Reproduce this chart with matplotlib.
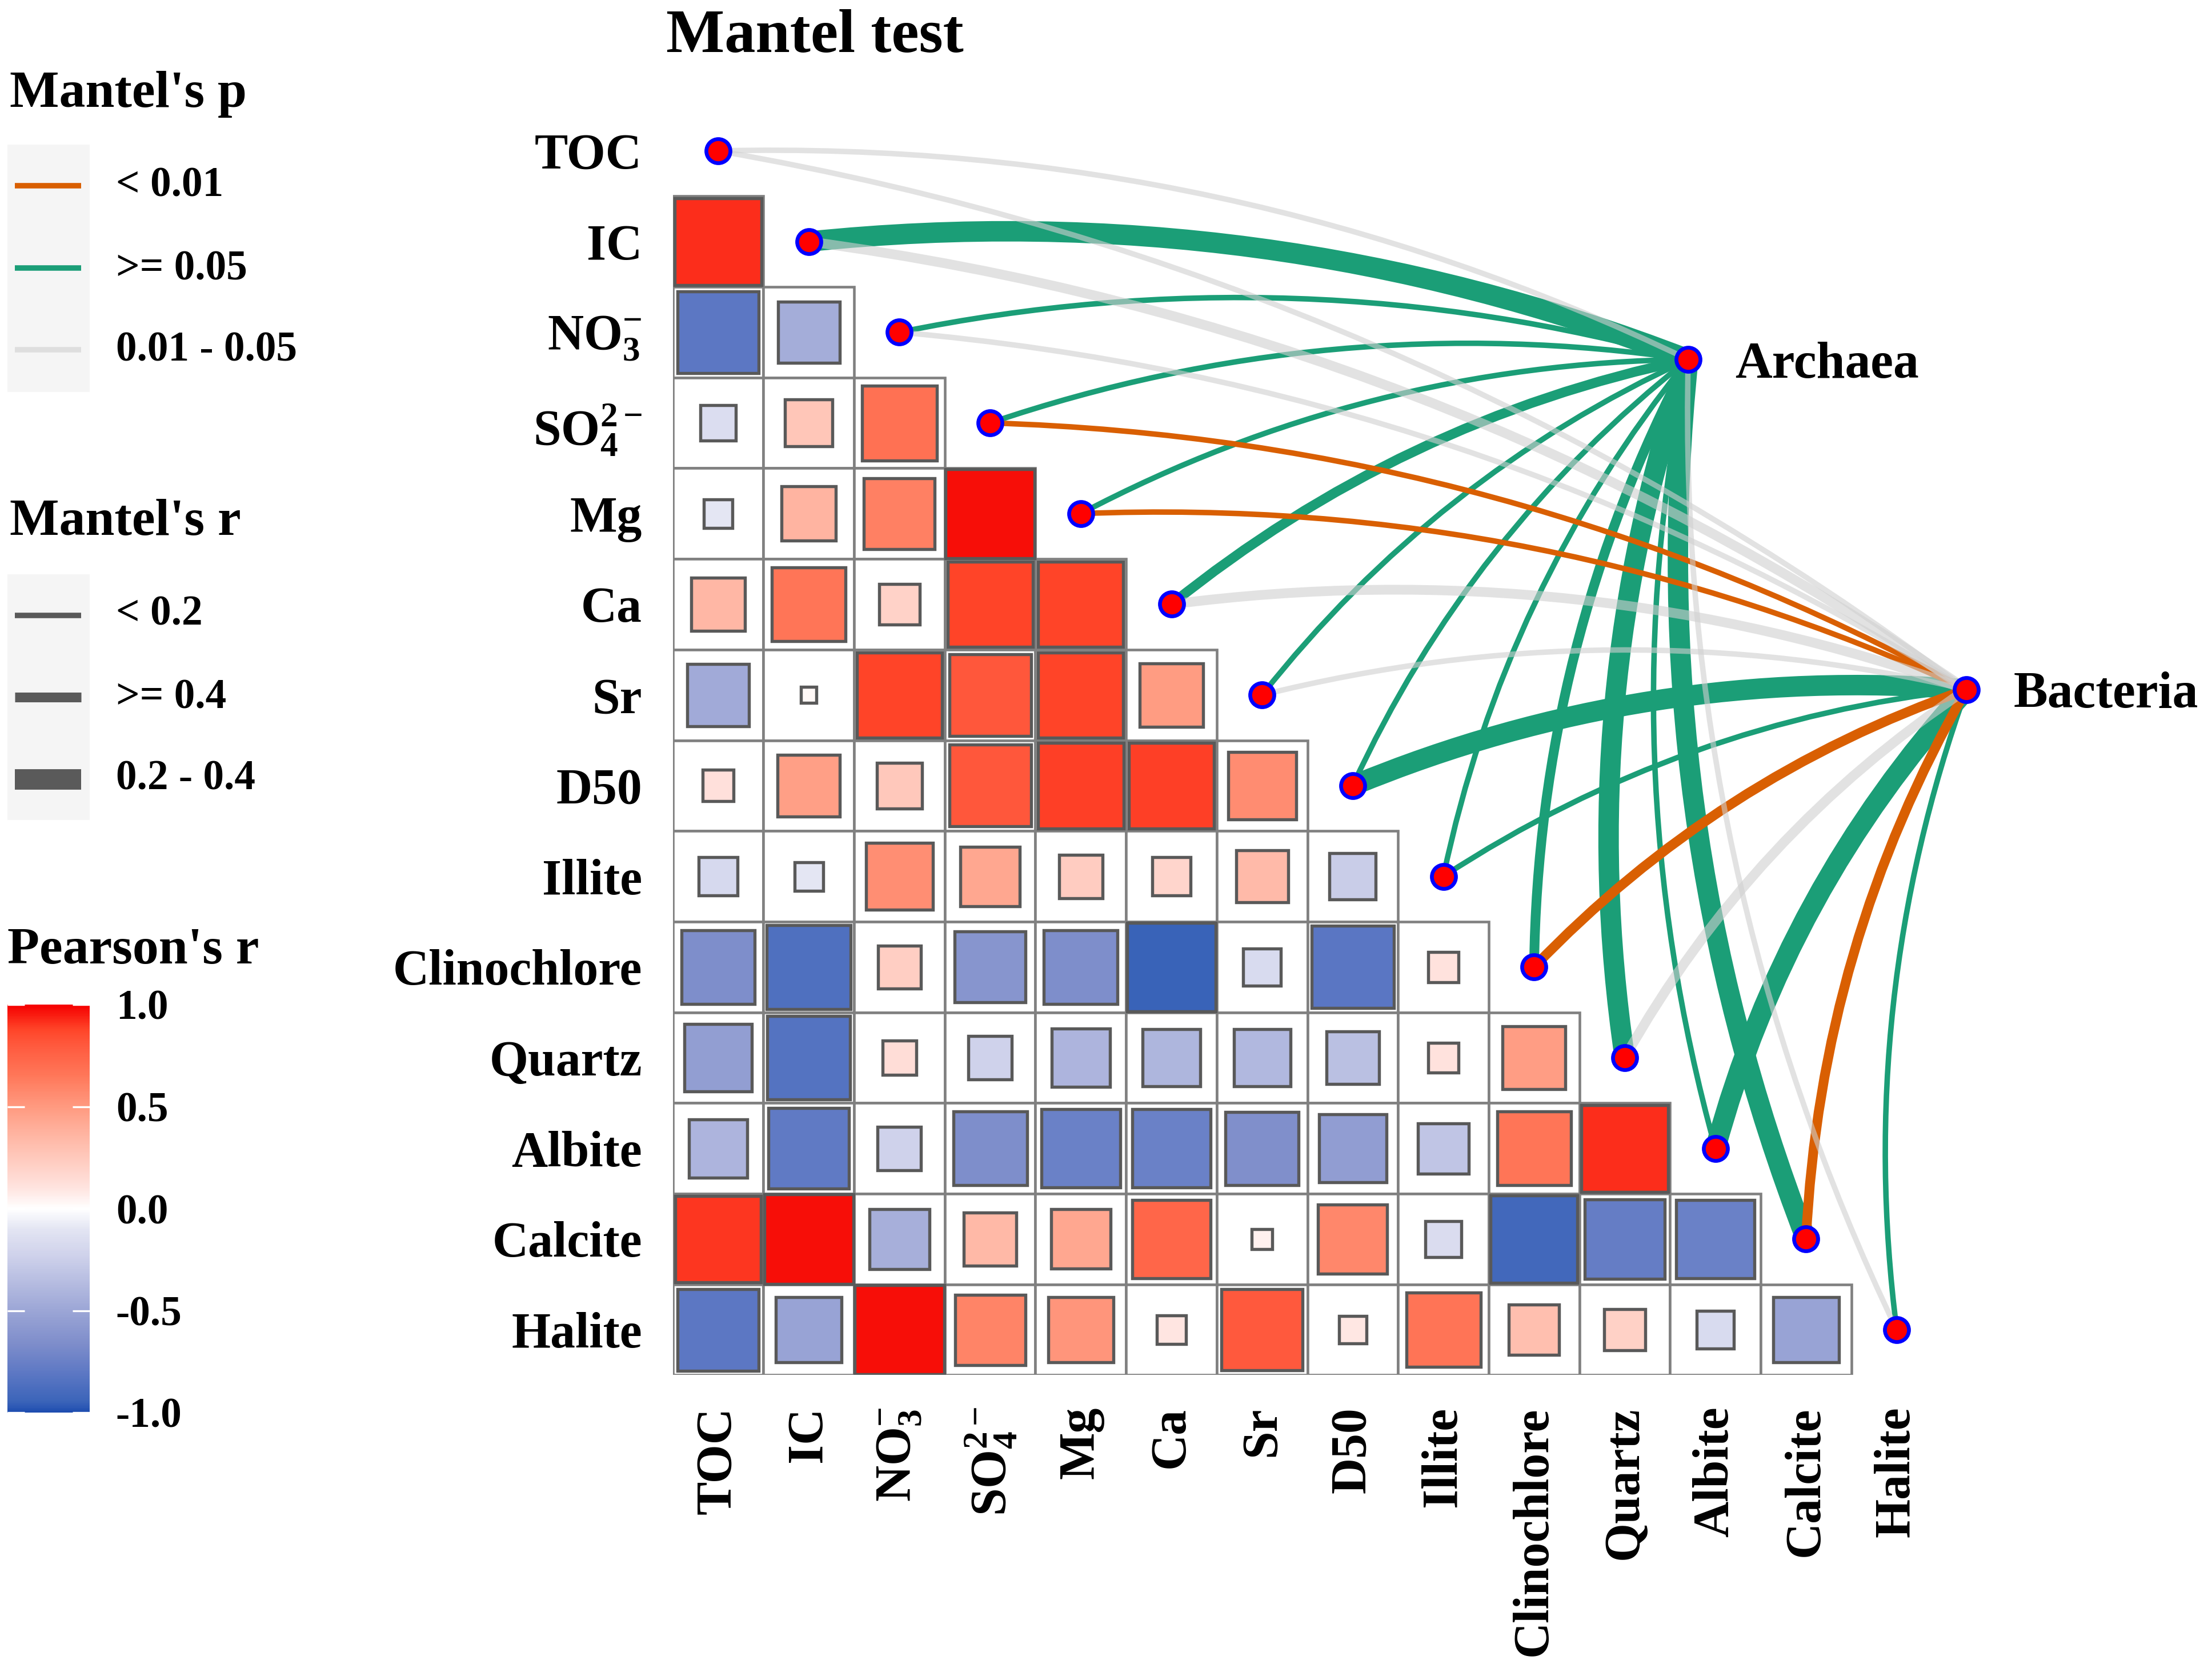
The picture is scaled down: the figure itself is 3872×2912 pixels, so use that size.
import numpy as np
import matplotlib
matplotlib.use("Agg")
import matplotlib.pyplot as plt
from matplotlib.patches import Rectangle, PathPatch
from matplotlib.path import Path
from matplotlib.colors import LinearSegmentedColormap, Normalize
from matplotlib.cm import ScalarMappable

plt.rcParams['font.family'] = ['Liberation Serif', 'DejaVu Serif']
plt.rcParams['font.weight'] = 'bold'
plt.rcParams['mathtext.fontset'] = 'custom'
plt.rcParams['mathtext.rm'] = 'Liberation Serif:bold'
plt.rcParams['mathtext.bf'] = 'Liberation Serif:bold'
plt.rcParams['mathtext.it'] = 'Liberation Serif:bold:italic'
plt.rcParams['mathtext.default'] = 'rm'

# ---------------- data ----------------
variables = ['TOC', 'IC', 'NO3', 'SO4', 'Mg', 'Ca', 'Sr', 'D50', 'Illite',
             'Clinochlore', 'Quartz', 'Albite', 'Calcite', 'Halite']
var_labels = ['TOC', 'IC', r'NO$_3^{-}$', r'SO$_4^{2-}$', 'Mg', 'Ca', 'Sr', 'D50',
              'Illite', 'Clinochlore', 'Quartz', 'Albite', 'Calcite', 'Halite']

# Pearson's r, lower triangle (row i holds correlations with variables 0..i-1)
pearson_r = [
    [],
    [0.92],
    [-0.81, -0.46],
    [-0.15, 0.27, 0.68],
    [-0.10, 0.36, 0.61, 0.97],
    [0.35, 0.66, 0.20, 0.88, 0.88],
    [-0.47, 0.03, 0.88, 0.81, 0.88, 0.49],
    [0.12, 0.47, 0.25, 0.81, 0.89, 0.89, 0.56],
    [-0.18, -0.10, 0.55, 0.43, 0.23, 0.18, 0.33, -0.26],
    [-0.66, -0.86, 0.22, -0.61, -0.66, -0.95, -0.17, -0.82, 0.11],
    [-0.55, -0.84, 0.14, -0.23, -0.41, -0.40, -0.39, -0.34, 0.11, 0.48],
    [-0.41, -0.79, -0.23, -0.66, -0.75, -0.75, -0.65, -0.56, -0.31, 0.66, 0.92],
    [0.90, 0.97, -0.44, 0.34, 0.43, 0.74, 0.05, 0.58, -0.16, -0.92, -0.77, -0.75],
    [-0.81, -0.52, 0.97, 0.60, 0.52, 0.10, 0.80, 0.09, 0.67, 0.31, 0.21, -0.17, -0.52],
]

species = ['Archaea', 'Bacteria']
archaea_p = ['0.01 - 0.05', '>= 0.05', '>= 0.05', '>= 0.05', '>= 0.05', '>= 0.05', '>= 0.05',
             '>= 0.05', '>= 0.05', '>= 0.05', '>= 0.05', '>= 0.05', '>= 0.05', '0.01 - 0.05']
archaea_r = ['< 0.2', '0.2 - 0.4', '< 0.2', '< 0.2', '< 0.2', '>= 0.4', '< 0.2',
             '< 0.2', '< 0.2', '>= 0.4', '0.2 - 0.4', '< 0.2', '0.2 - 0.4', '< 0.2']
bacteria_p = ['0.01 - 0.05', '0.01 - 0.05', '0.01 - 0.05', '< 0.01', '< 0.01', '0.01 - 0.05',
              '0.01 - 0.05', '>= 0.05', '>= 0.05', '< 0.01', '0.01 - 0.05', '>= 0.05',
              '< 0.01', '>= 0.05']
bacteria_r = ['< 0.2', '>= 0.4', '< 0.2', '< 0.2', '< 0.2', '>= 0.4', '< 0.2',
              '0.2 - 0.4', '< 0.2', '>= 0.4', '>= 0.4', '0.2 - 0.4', '>= 0.4', '< 0.2']

p_levels = ['< 0.01', '>= 0.05', '0.01 - 0.05']
r_levels = ['< 0.2', '>= 0.4', '0.2 - 0.4']
colorbar_ticks = [-1.0, -0.5, 0.0, 0.5, 1.0]

# ---------------- styles ----------------
p_colors = {'< 0.01': '#D95F02', '>= 0.05': '#1B9E77', '0.01 - 0.05': '#D0D0D0'}
p_alpha = {'< 0.01': 1.0, '>= 0.05': 1.0, '0.01 - 0.05': 0.6}
p_z = {'>= 0.05': 3.0, '< 0.01': 3.5, '0.01 - 0.05': 4.0}
r_widths = {'< 0.2': 2.3, '>= 0.4': 4.1, '0.2 - 0.4': 8.6}

cmap = LinearSegmentedColormap.from_list('pear', [
    (0.0, '#1E4DB0'), (0.025, '#3B64B9'), (0.09, '#5A76C3'), (0.17, '#7F8ECB'),
    (0.25, '#9CA6D6'), (0.385, '#CFD2EB'), (0.45, '#E3E5F3'), (0.5, '#FFFFFF'),
    (0.55, '#FFE4E0'), (0.6, '#FFD2C8'), (0.665, '#FFBBAA'), (0.75, '#FF9A80'),
    (0.83, '#FF7658'), (0.9, '#FF5A3E'), (0.94, '#FF4529'), (1.0, '#F50000')])
norm = Normalize(-1, 1)

W, H, DPI = 3872, 2912, 300
fig = plt.figure(figsize=(W / DPI, H / DPI), dpi=DPI)

# main axes layout (cell units)
U = 158.7
x0px, y0px = 1257.0, 264.0
xlim = (-0.5, 16.3)
ytop, ybot = -1.0, 13.5
left = (x0px + xlim[0] * U) / W
width = (xlim[1] - xlim[0]) * U / W
top_px = y0px + ytop * U
bot_px = y0px + ybot * U
ax = fig.add_axes([left, 1 - bot_px / H, width, (bot_px - top_px) / H])
ax.set_xlim(*xlim)
ax.set_ylim(ybot, ytop)
for s in ax.spines.values():
    s.set_visible(False)
ax.patch.set_visible(False)

n = len(variables)
ax.set_xticks(range(n))
ax.set_xticklabels(var_labels, rotation=90, fontsize=21, fontweight='bold')
ax.set_yticks(range(n))
ax.set_yticklabels(var_labels, fontsize=21, fontweight='bold')
ax.tick_params(axis='x', length=0, pad=13.3)
ax.tick_params(axis='y', length=0, pad=12.9)

# grid cells and squares
for i, row in enumerate(pearson_r):
    for j, r in enumerate(row):
        ax.add_patch(Rectangle((j - 0.5, i - 0.5), 1, 1, facecolor='white',
                               edgecolor='#808080', linewidth=1.1, zorder=1))
for i, row in enumerate(pearson_r):
    for j, r in enumerate(row):
        s = np.sqrt(abs(r))
        ax.add_patch(Rectangle((j - s / 2, i - s / 2), s, s, facecolor=cmap(norm(r)),
                               edgecolor='#595959', linewidth=1.3, zorder=2))

# nodes
node_pos = {'Archaea': (10.70, 2.30), 'Bacteria': (13.77, 5.94)}
node_p = {'Archaea': archaea_p, 'Bacteria': bacteria_p}
node_r = {'Archaea': archaea_r, 'Bacteria': bacteria_r}
rad = 0.12
for sp in species:
    nx, ny = node_pos[sp]
    for i in range(n):
        sx, sy = i, i
        dx, dy = nx - sx, ny - sy
        mx, my = (sx + nx) / 2, (sy + ny) / 2
        cx, cy = mx + rad * dy, my - rad * dx
        path = Path([(sx, sy), (cx, cy), (nx, ny)], [Path.MOVETO, Path.CURVE3, Path.CURVE3])
        pc = node_p[sp][i]
        ax.add_patch(PathPatch(path, facecolor='none', edgecolor=p_colors[pc],
                               alpha=p_alpha[pc], linewidth=r_widths[node_r[sp][i]],
                               capstyle='butt', zorder=p_z[pc]))
    ax.text(nx + 0.52, ny, sp, fontsize=21.5, fontweight='bold', ha='left',
            va='center_baseline', clip_on=False)

ax.scatter(range(n), range(n), s=102, c='red', edgecolors='blue', linewidths=1.6, zorder=6)
ax.scatter([node_pos[s][0] for s in species], [node_pos[s][1] for s in species],
           s=102, c='red', edgecolors='blue', linewidths=1.6, zorder=6, clip_on=False)

fig.text(1166 / W, 1 - 91 / H, 'Mantel test', fontsize=26, fontweight='bold',
         ha='left', va='baseline')

# ---------------- legends (left panel) ----------------
lax = fig.add_axes([0, 0, 1100 / W, 1])
lax.set_xlim(0, 1100)
lax.set_ylim(H, 0)
lax.axis('off')

lax.text(17, 187, "Mantel's p", fontsize=22, fontweight='bold', ha='left', va='baseline')
lax.add_patch(Rectangle((12.5, 253), 144.5, 433, facecolor='#F5F5F5', edgecolor='none'))
for lev, yc, yt in zip(p_levels, [325, 469, 612], [319, 464, 606]):
    lax.plot([26, 142], [yc, yc], color=p_colors[lev], alpha=p_alpha[lev], lw=2.3,
             solid_capstyle='butt')
    lax.text(203, yt + 25, lev, fontsize=17.6, fontweight='bold', ha='left', va='baseline')

lax.text(17, 936, "Mantel's r", fontsize=22, fontweight='bold', ha='left', va='baseline')
lax.add_patch(Rectangle((12.5, 1005), 144.5, 430, facecolor='#F5F5F5', edgecolor='none'))
for lev, yc, yt in zip(r_levels, [1077, 1220, 1364], [1069, 1215, 1356]):
    lax.plot([26, 142], [yc, yc], color='#5A5A5A', lw=r_widths[lev],
             solid_capstyle='butt')
    lax.text(203, yt + 25, lev, fontsize=17.6, fontweight='bold', ha='left', va='baseline')

lax.text(13, 1686, "Pearson's r", fontsize=22, fontweight='bold', ha='left', va='baseline')

cax = fig.add_axes([12.5 / W, 1 - 2472 / H, 144.5 / W, 714 / H])
cb = fig.colorbar(ScalarMappable(norm=norm, cmap=cmap), cax=cax, ticks=colorbar_ticks)
cb.outline.set_visible(False)
cb.set_ticklabels(['%.1f' % t for t in colorbar_ticks])
cax.yaxis.set_ticks_position('both')
cax.tick_params(direction='in', length=7.2, width=0.8, color='white', left=True, right=True,
                labelleft=False, labelright=True, labelsize=17.6, pad=11)
for lab in cax.get_yticklabels():
    lab.set_fontweight('bold')

fig.savefig('out.png', dpi=DPI)
